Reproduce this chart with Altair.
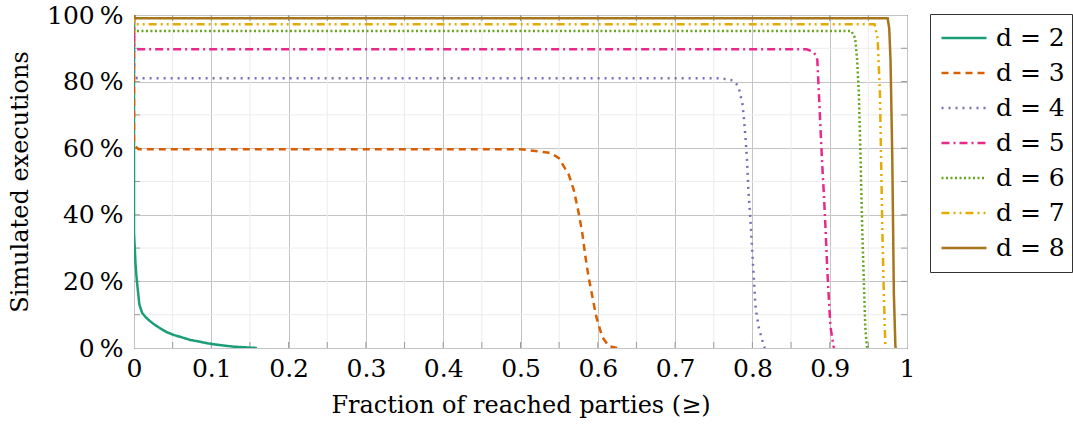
import altair as alt
import pandas as pd

# ---- data (x = fraction of reached parties, y = % of executions) ----
series_labels = ["d = 2", "d = 3", "d = 4", "d = 5", "d = 6", "d = 7", "d = 8"]

d2_x = [0, 0, 0.001, 0.002, 0.003, 0.004, 0.007, 0.0106, 0.015, 0.019, 0.026, 0.034, 0.042,
        0.0515, 0.062, 0.073, 0.085, 0.095, 0.11, 0.129, 0.145, 0.159]
d2_y = [100, 34.5, 30, 25, 22, 19.5, 13, 10.5, 9.3, 8.4, 7.1, 5.9, 4.8,
        3.9, 3.2, 2.4, 1.9, 1.4, 0.9, 0.4, 0.2, 0]

d3_x = [0, 0, 0.002, 0.006, 0.5, 0.539, 0.5496, 0.5625, 0.569, 0.5754, 0.58, 0.584, 0.588,
        0.593, 0.598, 0.6057, 0.614, 0.625]
d3_y = [100, 62, 60.5, 59.7, 59.7, 58.6, 57, 52, 47.4, 40.4, 34.4, 27.4, 21.4,
        15.4, 9.4, 3.4, 0.6, 0]

d4_x = [0, 0, 0.004, 0.759, 0.776, 0.782, 0.787, 0.789, 0.791, 0.793, 0.795, 0.7975, 0.7997,
        0.802, 0.804, 0.808, 0.8127, 0.8147, 0.816]
d4_y = [100, 82, 81, 81, 80.3, 78.5, 73.5, 69, 63.5, 56.5, 46.5, 38.4, 29.4,
        20.4, 12.4, 6.4, 2.4, 0.6, 0]

d5_x = [0, 0, 0.003, 0.87, 0.878, 0.882, 0.884, 0.886, 0.888, 0.890, 0.8924, 0.8945, 0.8967,
        0.899, 0.901, 0.905, 0.906]
d5_y = [100, 90.5, 89.7, 89.7, 89, 88, 86.5, 76.5, 66.5, 56.5, 46.5, 36.4, 24.4,
        14.4, 6.4, 0.4, 0]

d6_x = [0, 0, 0.002, 0.928, 0.933, 0.9355, 0.9377, 0.94, 0.942, 0.944, 0.946, 0.948, 0.949]
d6_y = [100, 95.7, 95.2, 95.2, 93, 86.5, 76.5, 56.5, 36.4, 21.4, 6.4, 0.6, 0]

d7_x = [0, 0, 0.958, 0.962, 0.9635, 0.965, 0.9665, 0.968, 0.97, 0.972, 0.973]
d7_y = [100, 97.2, 97.2, 93, 84.5, 76.5, 56.5, 36.4, 16.4, 0.4, 0]

d8_x = [0, 0, 0.975, 0.977, 0.9787, 0.981, 0.983, 0.985, 0.986]
d8_y = [100, 99, 99, 96, 86.5, 56.5, 16.4, 0.4, 0]

x_major = [0, 0.1, 0.2, 0.3, 0.4, 0.5, 0.6, 0.7, 0.8, 0.9, 1]
y_major = [0, 20, 40, 60, 80, 100]
x_minor = [0.05, 0.15, 0.25, 0.35, 0.45, 0.55, 0.65, 0.75, 0.85, 0.95]
y_minor = [10, 30, 50, 70, 90]

colors = ["#1b9e77", "#d95f02", "#7570b3", "#e7298a", "#66a61e", "#e6ab02", "#a6761d"]
dashes = [[1, 0], [7, 5], [2, 5], [8, 4, 2, 4], [2, 2.5], [8, 4, 2, 4, 2, 4], [1, 0]]

# ---- build tables ----
xs = [d2_x, d3_x, d4_x, d5_x, d6_x, d7_x, d8_x]
ys = [d2_y, d3_y, d4_y, d5_y, d6_y, d7_y, d8_y]
rows = []
for lab, sx, sy in zip(series_labels, xs, ys):
    for i, (a, b) in enumerate(zip(sx, sy)):
        rows.append({"series": lab, "x": a, "y": b, "i": i})
df = pd.DataFrame(rows)

minor_x_df = pd.DataFrame({"x": x_minor})
minor_y_df = pd.DataFrame({"y": y_minor})
xtick_df = pd.DataFrame({"x": x_major[1:-1] + x_minor})
ytick_df = pd.DataFrame({"y": y_major[1:-1] + y_minor})

FONT = "DejaVu Serif"
FS = 25
W, H = 773, 333
TICK = 6
TICK_COLOR = "#9a9a9a"

xscale = alt.Scale(domain=[0, 1], nice=False, zero=False)
yscale = alt.Scale(domain=[0, 100], nice=False)

minor_v = alt.Chart(minor_x_df).mark_rule(color="#ececec", strokeWidth=1).encode(
    x=alt.X("x:Q", scale=xscale)
)
minor_h = alt.Chart(minor_y_df).mark_rule(color="#ececec", strokeWidth=1).encode(
    y=alt.Y("y:Q", scale=yscale)
)

# inward tick marks on all four sides
tick_b = alt.Chart(xtick_df).mark_rule(color=TICK_COLOR, strokeWidth=1).encode(
    x=alt.X("x:Q", scale=xscale), y=alt.value(H), y2=alt.value(H - TICK)
)
tick_t = alt.Chart(xtick_df).mark_rule(color=TICK_COLOR, strokeWidth=1).encode(
    x=alt.X("x:Q", scale=xscale), y=alt.value(0), y2=alt.value(TICK)
)
tick_l = alt.Chart(ytick_df).mark_rule(color=TICK_COLOR, strokeWidth=1).encode(
    y=alt.Y("y:Q", scale=yscale), x=alt.value(0), x2=alt.value(TICK)
)
tick_r = alt.Chart(ytick_df).mark_rule(color=TICK_COLOR, strokeWidth=1).encode(
    y=alt.Y("y:Q", scale=yscale), x=alt.value(W), x2=alt.value(W - TICK)
)

lines = alt.Chart(df).mark_line(strokeWidth=2.5, clip=True).encode(
    x=alt.X(
        "x:Q",
        scale=xscale,
        axis=alt.Axis(
            values=x_major,
            title="Fraction of reached parties (≥)",
            labelExpr="datum.value == 0 ? '0' : datum.value == 1 ? '1' : format(datum.value, '.1f')",
            grid=True,
            gridColor="#c4c4c4",
            gridWidth=1,
            ticks=False,
            domain=False,
            labelPadding=8,
            titlePadding=12,
            titleFontSize=24,
            labelFlush=False,
        ),
    ),
    y=alt.Y(
        "y:Q",
        scale=yscale,
        axis=alt.Axis(
            values=y_major,
            title="Simulated executions",
            labelExpr="datum.value + '\u2009%'",
            grid=True,
            gridColor="#c4c4c4",
            gridWidth=1,
            ticks=False,
            domain=False,
            labelPadding=11,
            titlePadding=14,
            titleFontSize=24,
            labelFlush=False,
        ),
    ),
    color=alt.Color(
        "series:N",
        scale=alt.Scale(domain=series_labels, range=colors),
        legend=alt.Legend(
            title=None,
            orient="none",
            legendX=796,
            legendY=-1,
            symbolType="stroke",
            symbolSize=2025,
            symbolStrokeWidth=2.5,
            symbolOffset=3,
            labelOffset=8,
            clipHeight=34,
            rowPadding=1,
            padding=7,
            strokeColor="#333333",
            fillColor="white",
            cornerRadius=0,
        ),
    ),
    strokeDash=alt.StrokeDash(
        "series:N",
        scale=alt.Scale(domain=series_labels, range=dashes),
        legend=alt.Legend(title=None),
    ),
    order=alt.Order("i:Q"),
)

chart = (
    alt.layer(minor_v, minor_h, tick_b, tick_t, tick_l, tick_r, lines)
    .properties(
        width=W,
        height=H,
        padding={"left": 134, "top": 15, "right": 166, "bottom": 79},
        autosize=alt.AutoSizeParams(type="none"),
        background="white",
    )
    .configure_view(stroke="black", strokeWidth=1)
    .configure_axis(
        labelFont=FONT,
        labelFontSize=FS,
        labelColor="black",
        titleFont=FONT,
        titleFontWeight="normal",
        titleColor="black",
    )
    .configure_legend(
        labelFont=FONT,
        labelFontSize=FS,
        labelColor="black",
    )
)

chart.save("out.html", embed_options={"renderer": "svg", "actions": False})
